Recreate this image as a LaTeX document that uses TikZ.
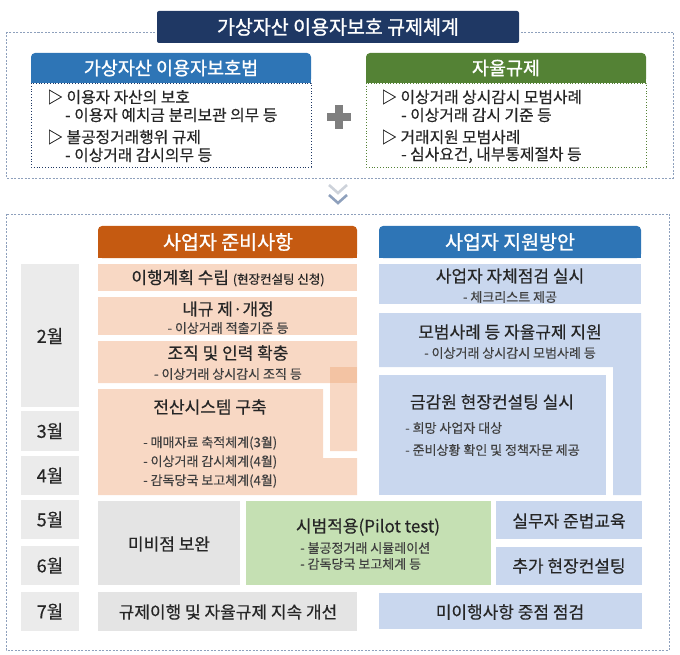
\documentclass[tikz,border=0pt]{standalone}
\usepackage{fontspec}
\setmainfont{Noto Sans CJK KR}[FakeBold=0.35]
\newfontfamily\hdrfont{Noto Sans CJK KR}[FakeBold=1.2]
\definecolor{navy}{HTML}{1F3864}
\definecolor{hblue}{HTML}{2E75B6}
\definecolor{hgreen}{HTML}{548235}
\definecolor{horange}{HTML}{C55A11}
\definecolor{peach}{HTML}{F8D8C4}
\definecolor{peachdk}{HTML}{F3C3A3}
\definecolor{lblue}{HTML}{C9D7EE}
\definecolor{lgray}{HTML}{EBEBEB}
\definecolor{mgray}{HTML}{E4E4E4}
\definecolor{lgreen}{HTML}{C5E0B3}
\definecolor{dashc}{HTML}{8EA0BC}
\definecolor{chevlt}{HTML}{CDD2DA}
\definecolor{ink}{HTML}{262626}
\definecolor{subink}{HTML}{404040}
\definecolor{plusc}{HTML}{7F7F7F}
\begin{document}
\begin{tikzpicture}[x=1pt,y=-1pt,
  outerbox/.style={draw=dashc,line width=0.9pt,dash pattern=on 2pt off 1.5pt},
  hdrtext/.style={text=white,inner sep=0pt,font=\hdrfont\fontsize{19.5}{22}\selectfont},
  toptext/.style={text=ink,inner sep=0pt,anchor=west,font=\fontsize{15.8}{18}\selectfont},
  mainlbl/.style={text=ink,inner sep=0pt,font=\fontsize{17}{20}\selectfont},
  sublbl/.style={text=subink,inner sep=0pt,font=\fontsize{13}{15}\selectfont},
  monthlbl/.style={text=ink,inner sep=0pt,font=\fontsize{18}{20}\selectfont},
  chev/.style={line width=2.6pt}]
\useasboundingbox (0,0) rectangle (680,655);

% ---------- top section ----------
\draw[outerbox] (6,32) rectangle (673,178);
\fill[navy,rounded corners=2pt] (157,11) rectangle (519,43);
\node[hdrtext] (title) at (338,27) {가상자산 이용자보호 규제체계};

% left block
\fill[white] (31,83) rectangle (311,167);
\draw[navy,line width=0.8pt,dotted] (31,83) rectangle (311,167);
\fill[hblue,rounded corners=4pt] (31,53) rectangle (311,83);
\fill[hblue] (31,70) rectangle (311,83);
\node[hdrtext,font=\hdrfont\fontsize{18.5}{22}\selectfont] (lawhdr) at (171,68) {가상자산 이용자보호법};
\node[toptext] (l1) at (47,97) {▷ 이용자 자산의 보호};
\node[toptext] (l2) at (65,115) {- 이용자 예치금 분리보관 의무 등};
\node[toptext] (l3) at (47,137) {▷ 불공정거래행위 규제};
\node[toptext] (l4) at (65,155) {- 이상거래 감시의무 등};

% right block
\fill[white] (366,83) rectangle (646,167);
\draw[hgreen,line width=0.8pt,dotted] (366,83) rectangle (646,167);
\fill[hgreen,rounded corners=4pt] (366,53) rectangle (646,83);
\fill[hgreen] (366,70) rectangle (646,83);
\node[hdrtext,font=\hdrfont\fontsize{18.5}{22}\selectfont] (selfhdr) at (506,68) {자율규제};
\node[toptext] (r1) at (381,97) {▷ 이상거래 상시감시 모범사례};
\node[toptext] (r2) at (401,115) {- 이상거래 감시 기준 등};
\node[toptext] (r3) at (381,137) {▷ 거래지원 모범사례};
\node[toptext] (r4) at (401,155) {- 심사요건, 내부통제절차 등};

% plus sign
\fill[plusc] (327,113) rectangle (351,121);
\fill[plusc] (335,105) rectangle (343,129);

% chevrons
\draw[chev,color=chevlt] (329,185) -- (338,193) -- (347,185);
\draw[chev,color=dashc] (329,195) -- (338,203) -- (347,195);

% ---------- bottom section ----------
\draw[outerbox] (6,214) rectangle (669,650);

% headers
\fill[horange,rounded corners=4pt] (98,226) rectangle (357,258);
\fill[horange] (98,242) rectangle (357,258);
\node[hdrtext] (prephdr) at (228,242) {사업자 준비사항};
\fill[hblue,rounded corners=4pt] (379,226) rectangle (641,258);
\fill[hblue] (379,242) rectangle (641,258);
\node[hdrtext] (suphdr) at (510,242) {사업자 지원방안};

% months
\fill[lgray] (21,264) rectangle (79,407);
\node[monthlbl] (m2) at (50,336) {2월};
\fill[lgray] (21,411) rectangle (79,451);
\node[monthlbl] (m3) at (50,431) {3월};
\fill[lgray] (21,456) rectangle (79,495);
\node[monthlbl] (m4) at (50,475.5) {4월};
\fill[lgray] (21,500) rectangle (79,539);
\node[monthlbl] (m5) at (50,519.5) {5월};
\fill[lgray] (21,546) rectangle (79,585);
\node[monthlbl] (m6) at (50,565.5) {6월};
\fill[lgray] (21,592) rectangle (79,631);
\node[monthlbl] (m7) at (50,611.5) {7월};

% orange column
\fill[peach] (98,264) rectangle (357,291);
\node[mainlbl] (o1) at (228,278) {이행계획 수립 {\fontsize{12.5}{14}\selectfont (현장컨설팅 신청)}};
\fill[peach] (98,297) rectangle (357,335);
\node[mainlbl] (o2) at (228,309) {내규 제·개정};
\node[sublbl] (o2s) at (228,328) {- 이상거래 적출기준 등};
\fill[peach] (98,341) -- (357,341) -- (357,451) -- (330,451) -- (330,383) -- (98,383) -- cycle;
\fill[peachdk] (330,367) rectangle (357,383);
\node[mainlbl] (o3) at (228,353) {조직 및 인력 확충};
\node[sublbl] (o3s) at (228,374) {- 이상거래 상시감시 조직 등};
\fill[peach] (98,389) -- (323,389) -- (323,458) -- (357,458) -- (357,495) -- (98,495) -- cycle;
\node[mainlbl] (o4) at (210,407) {전산시스템 구축};
\node[sublbl,anchor=west] (o4a) at (143,443) {- 매매자료 축적체계(3월)};
\node[sublbl,anchor=west] (o4b) at (143,462) {- 이상거래 감시체계(4월)};
\node[sublbl,anchor=west] (o4c) at (143,481) {- 감독당국 보고체계(4월)};

% blue column
\fill[lblue] (379,264) rectangle (641,304);
\node[mainlbl] (b1) at (510,276) {사업자 자체점검 실시};
\node[sublbl] (b1s) at (510,297) {- 체크리스트 제공};
\fill[lblue] (379,313) -- (641,313) -- (641,495) -- (613,495) -- (613,367) -- (379,367) -- cycle;
\node[mainlbl] (b2) at (510,332) {모범사례 등 자율규제 지원};
\node[sublbl] (b2s) at (510,353) {- 이상거래 상시감시 모범사례 등};
\fill[lblue] (379,375) rectangle (606,495);
\node[mainlbl] (b3) at (492,402) {금감원 현장컨설팅 실시};
\node[sublbl,anchor=west] (b3a) at (405,428) {- 희망 사업자 대상};
\node[sublbl,anchor=west] (b3b) at (405,450) {- 준비상황 확인 및 정책자문 제공};

% rows 5-7
\fill[mgray] (98,501) rectangle (240,585);
\node[mainlbl] (g1) at (169,544) {미비점 보완};
\fill[lgreen] (246,501) rectangle (491,585);
\node[mainlbl] (pt) at (368,527) {시범적용(Pilot test)};
\node[sublbl,anchor=west] (pta) at (300,548) {- 불공정거래 시뮬레이션};
\node[sublbl,anchor=west] (ptb) at (300,564) {- 감독당국 보고체계 등};
\fill[lblue] (496,501) rectangle (642,539);
\node[mainlbl] (b4) at (569,521) {실무자 준법교육};
\fill[lblue] (496,547) rectangle (642,585);
\node[mainlbl] (b5) at (569,566) {추가 현장컨설팅};
\fill[mgray] (98,592) rectangle (357,631);
\node[mainlbl] (g2) at (228,612) {규제이행 및 자율규제 지속 개선};
\fill[lblue] (379,593) rectangle (642,629);
\node[mainlbl] (b6) at (510,612) {미이행사항 중점 점검};
\end{tikzpicture}
\end{document}
